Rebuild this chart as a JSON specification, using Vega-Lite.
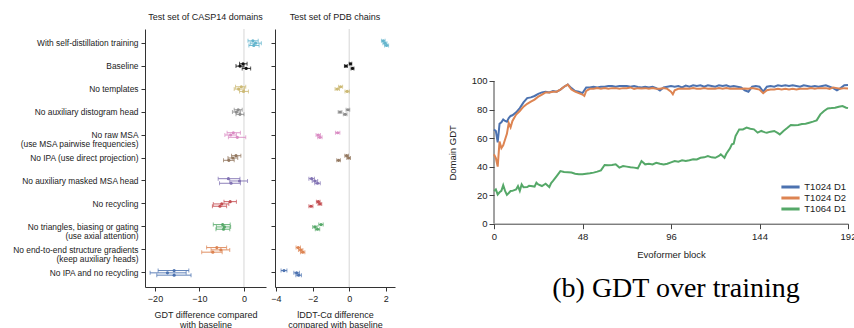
{
  "$schema": "https://vega.github.io/schema/vega-lite/v6.json",
  "background": "white",
  "padding": {"left": 12, "top": 12, "right": 0, "bottom": 0},
  "config": {
    "font": "Liberation Sans",
    "view": {"stroke": null},
    "axis": {"domainColor": "#333", "tickColor": "#333", "labelColor": "#222", "titleColor": "#222", "grid": false, "titleFontWeight": "normal", "labelOverlap": false, "labelBound": false, "labelFlush": false},
    "title": {"fontWeight": "normal", "color": "#222"}
  },
  "resolve": {"scale": {"color": "independent"}, "legend": {"color": "independent"}},
  "datasets": {
    "ablation": [
      {"cond": "With self-distillation training", "seed": "s1", "gdt": 2.0, "gdtLo": 0.9, "gdtHi": 3.2, "lddt": 1.86, "lddtLo": 1.76, "lddtHi": 1.96},
      {"cond": "With self-distillation training", "seed": "s2", "gdt": 2.6, "gdtLo": 1.4, "gdtHi": 3.9, "lddt": 1.95, "lddtLo": 1.84, "lddtHi": 2.06},
      {"cond": "With self-distillation training", "seed": "s3", "gdt": 2.2, "gdtLo": 1.1, "gdtHi": 3.4, "lddt": 2.04, "lddtLo": 1.93, "lddtHi": 2.15},
      {"cond": "Baseline", "seed": "s1", "gdt": -0.2, "gdtLo": -1.0, "gdtHi": 0.7, "lddt": 0.07, "lddtLo": 0.0, "lddtHi": 0.14},
      {"cond": "Baseline", "seed": "s2", "gdt": -0.9, "gdtLo": -1.8, "gdtHi": 0.0, "lddt": -0.18, "lddtLo": -0.26, "lddtHi": -0.1},
      {"cond": "Baseline", "seed": "s3", "gdt": 0.5, "gdtLo": -0.4, "gdtHi": 1.5, "lddt": 0.18, "lddtLo": 0.1, "lddtHi": 0.26},
      {"cond": "No templates", "seed": "s1", "gdt": -0.6, "gdtLo": -1.9, "gdtHi": 0.4, "lddt": -0.47, "lddtLo": -0.58, "lddtHi": -0.36},
      {"cond": "No templates", "seed": "s2", "gdt": -1.2, "gdtLo": -2.2, "gdtHi": 0.1, "lddt": -0.65, "lddtLo": -0.77, "lddtHi": -0.53},
      {"cond": "No templates", "seed": "s3", "gdt": -0.1, "gdtLo": -1.0, "gdtHi": 1.0, "lddt": -0.11, "lddtLo": -0.23, "lddtHi": 0.01},
      {"cond": "No auxiliary distogram head", "seed": "s1", "gdt": -1.3, "gdtLo": -2.2, "gdtHi": -0.4, "lddt": -0.07, "lddtLo": -0.17, "lddtHi": 0.03},
      {"cond": "No auxiliary distogram head", "seed": "s2", "gdt": -1.7, "gdtLo": -2.6, "gdtHi": -0.8, "lddt": -0.5, "lddtLo": -0.6, "lddtHi": -0.4},
      {"cond": "No auxiliary distogram head", "seed": "s3", "gdt": -0.9, "gdtLo": -1.8, "gdtHi": 0.0, "lddt": -0.22, "lddtLo": -0.32, "lddtHi": -0.12},
      {"cond": "No raw MSA\n(use MSA pairwise frequencies)", "seed": "s1", "gdt": -2.4, "gdtLo": -3.8, "gdtHi": -0.8, "lddt": -0.63, "lddtLo": -0.75, "lddtHi": -0.51},
      {"cond": "No raw MSA\n(use MSA pairwise frequencies)", "seed": "s2", "gdt": -3.0, "gdtLo": -4.3, "gdtHi": -1.7, "lddt": -1.69, "lddtLo": -1.81, "lddtHi": -1.57},
      {"cond": "No raw MSA\n(use MSA pairwise frequencies)", "seed": "s3", "gdt": -1.5, "gdtLo": -3.5, "gdtHi": 0.4, "lddt": -1.6, "lddtLo": -1.72, "lddtHi": -1.48},
      {"cond": "No IPA (use direct projection)", "seed": "s1", "gdt": -1.8, "gdtLo": -2.8, "gdtHi": -0.7, "lddt": -0.14, "lddtLo": -0.24, "lddtHi": -0.04},
      {"cond": "No IPA (use direct projection)", "seed": "s2", "gdt": -2.5, "gdtLo": -3.6, "gdtHi": -1.4, "lddt": -0.03, "lddtLo": -0.13, "lddtHi": 0.07},
      {"cond": "No IPA (use direct projection)", "seed": "s3", "gdt": -3.4, "gdtLo": -4.6, "gdtHi": -2.2, "lddt": -0.58, "lddtLo": -0.68, "lddtHi": -0.48},
      {"cond": "No auxiliary masked MSA head", "seed": "s1", "gdt": -3.5, "gdtLo": -5.8, "gdtHi": -0.9, "lddt": -2.05, "lddtLo": -2.2, "lddtHi": -1.9},
      {"cond": "No auxiliary masked MSA head", "seed": "s2", "gdt": -1.0, "gdtLo": -3.2, "gdtHi": 0.8, "lddt": -1.87, "lddtLo": -2.02, "lddtHi": -1.72},
      {"cond": "No auxiliary masked MSA head", "seed": "s3", "gdt": -2.9, "gdtLo": -5.5, "gdtHi": -0.8, "lddt": -1.73, "lddtLo": -1.88, "lddtHi": -1.58},
      {"cond": "No recycling", "seed": "s1", "gdt": -3.1, "gdtLo": -4.5, "gdtHi": -1.7, "lddt": -1.69, "lddtLo": -1.79, "lddtHi": -1.59},
      {"cond": "No recycling", "seed": "s2", "gdt": -5.0, "gdtLo": -6.9, "gdtHi": -3.4, "lddt": -1.6, "lddtLo": -1.7, "lddtHi": -1.5},
      {"cond": "No recycling", "seed": "s3", "gdt": -5.4, "gdtLo": -7.1, "gdtHi": -3.9, "lddt": -2.09, "lddtLo": -2.2, "lddtHi": -1.98},
      {"cond": "No triangles, biasing or gating\n(use axial attention)", "seed": "s1", "gdt": -4.8, "gdtLo": -6.9, "gdtHi": -3.1, "lddt": -1.54, "lddtLo": -1.66, "lddtHi": -1.42},
      {"cond": "No triangles, biasing or gating\n(use axial attention)", "seed": "s2", "gdt": -4.4, "gdtLo": -6.2, "gdtHi": -3.0, "lddt": -1.87, "lddtLo": -1.99, "lddtHi": -1.75},
      {"cond": "No triangles, biasing or gating\n(use axial attention)", "seed": "s3", "gdt": -4.6, "gdtLo": -6.3, "gdtHi": -3.2, "lddt": -1.73, "lddtLo": -1.85, "lddtHi": -1.61},
      {"cond": "No end-to-end structure gradients\n(keep auxiliary heads)", "seed": "s1", "gdt": -6.1, "gdtLo": -8.4, "gdtHi": -3.9, "lddt": -2.78, "lddtLo": -2.9, "lddtHi": -2.66},
      {"cond": "No end-to-end structure gradients\n(keep auxiliary heads)", "seed": "s2", "gdt": -5.2, "gdtLo": -7.4, "gdtHi": -3.2, "lddt": -2.65, "lddtLo": -2.77, "lddtHi": -2.53},
      {"cond": "No end-to-end structure gradients\n(keep auxiliary heads)", "seed": "s3", "gdt": -7.0, "gdtLo": -9.5, "gdtHi": -4.9, "lddt": -2.54, "lddtLo": -2.66, "lddtHi": -2.42},
      {"cond": "No IPA and no recycling", "seed": "s1", "gdt": -15.7, "gdtLo": -19.3, "gdtHi": -12.4, "lddt": -3.56, "lddtLo": -3.72, "lddtHi": -3.4},
      {"cond": "No IPA and no recycling", "seed": "s2", "gdt": -17.2, "gdtLo": -21.1, "gdtHi": -13.0, "lddt": -2.87, "lddtLo": -3.02, "lddtHi": -2.72},
      {"cond": "No IPA and no recycling", "seed": "s3", "gdt": -15.7, "gdtLo": -19.6, "gdtHi": -11.9, "lddt": -2.76, "lddtLo": -2.91, "lddtHi": -2.61}
    ],
    "gdt": [
      {"block": 0, "series": "T1024 D1", "gdt": 66}, {"block": 1, "series": "T1024 D1", "gdt": 65}, {"block": 2, "series": "T1024 D1", "gdt": 57}, {"block": 3, "series": "T1024 D1", "gdt": 70}, {"block": 4, "series": "T1024 D1", "gdt": 71}, {"block": 5, "series": "T1024 D1", "gdt": 73}, {"block": 6, "series": "T1024 D1", "gdt": 72}, {"block": 7, "series": "T1024 D1", "gdt": 71.5}, {"block": 8, "series": "T1024 D1", "gdt": 74}, {"block": 9, "series": "T1024 D1", "gdt": 75.5}, {"block": 10, "series": "T1024 D1", "gdt": 76}, {"block": 12, "series": "T1024 D1", "gdt": 78}, {"block": 14, "series": "T1024 D1", "gdt": 81}, {"block": 16, "series": "T1024 D1", "gdt": 85}, {"block": 18, "series": "T1024 D1", "gdt": 88}, {"block": 20, "series": "T1024 D1", "gdt": 88.5}, {"block": 22, "series": "T1024 D1", "gdt": 89.5}, {"block": 24, "series": "T1024 D1", "gdt": 91}, {"block": 26, "series": "T1024 D1", "gdt": 92}, {"block": 28, "series": "T1024 D1", "gdt": 92.5}, {"block": 30, "series": "T1024 D1", "gdt": 92}, {"block": 32, "series": "T1024 D1", "gdt": 93}, {"block": 34, "series": "T1024 D1", "gdt": 92.5}, {"block": 36, "series": "T1024 D1", "gdt": 94}, {"block": 38, "series": "T1024 D1", "gdt": 96}, {"block": 40, "series": "T1024 D1", "gdt": 97.5}, {"block": 42, "series": "T1024 D1", "gdt": 95}, {"block": 44, "series": "T1024 D1", "gdt": 93}, {"block": 46, "series": "T1024 D1", "gdt": 92.5}, {"block": 48, "series": "T1024 D1", "gdt": 91.5}, {"block": 50, "series": "T1024 D1", "gdt": 95.5}, {"block": 52, "series": "T1024 D1", "gdt": 95.5}, {"block": 54, "series": "T1024 D1", "gdt": 96}, {"block": 56, "series": "T1024 D1", "gdt": 95.5}, {"block": 58, "series": "T1024 D1", "gdt": 96}, {"block": 60, "series": "T1024 D1", "gdt": 96}, {"block": 62, "series": "T1024 D1", "gdt": 96.5}, {"block": 64, "series": "T1024 D1", "gdt": 96.5}, {"block": 66, "series": "T1024 D1", "gdt": 96}, {"block": 68, "series": "T1024 D1", "gdt": 96.5}, {"block": 70, "series": "T1024 D1", "gdt": 96.5}, {"block": 72, "series": "T1024 D1", "gdt": 96.5}, {"block": 74, "series": "T1024 D1", "gdt": 96}, {"block": 76, "series": "T1024 D1", "gdt": 96.5}, {"block": 78, "series": "T1024 D1", "gdt": 95.8}, {"block": 80, "series": "T1024 D1", "gdt": 95.5}, {"block": 82, "series": "T1024 D1", "gdt": 96}, {"block": 84, "series": "T1024 D1", "gdt": 95.5}, {"block": 86, "series": "T1024 D1", "gdt": 96}, {"block": 88, "series": "T1024 D1", "gdt": 95}, {"block": 90, "series": "T1024 D1", "gdt": 93.4}, {"block": 92, "series": "T1024 D1", "gdt": 95.5}, {"block": 94, "series": "T1024 D1", "gdt": 96}, {"block": 96, "series": "T1024 D1", "gdt": 96.5}, {"block": 98, "series": "T1024 D1", "gdt": 96}, {"block": 100, "series": "T1024 D1", "gdt": 96.5}, {"block": 102, "series": "T1024 D1", "gdt": 95.5}, {"block": 104, "series": "T1024 D1", "gdt": 96.8}, {"block": 106, "series": "T1024 D1", "gdt": 96}, {"block": 108, "series": "T1024 D1", "gdt": 97}, {"block": 110, "series": "T1024 D1", "gdt": 96.5}, {"block": 112, "series": "T1024 D1", "gdt": 97}, {"block": 114, "series": "T1024 D1", "gdt": 96}, {"block": 116, "series": "T1024 D1", "gdt": 97}, {"block": 118, "series": "T1024 D1", "gdt": 96.5}, {"block": 120, "series": "T1024 D1", "gdt": 96}, {"block": 122, "series": "T1024 D1", "gdt": 97}, {"block": 124, "series": "T1024 D1", "gdt": 96.5}, {"block": 126, "series": "T1024 D1", "gdt": 97}, {"block": 128, "series": "T1024 D1", "gdt": 96}, {"block": 130, "series": "T1024 D1", "gdt": 96.5}, {"block": 132, "series": "T1024 D1", "gdt": 96}, {"block": 134, "series": "T1024 D1", "gdt": 95.5}, {"block": 136, "series": "T1024 D1", "gdt": 93.5}, {"block": 138, "series": "T1024 D1", "gdt": 92.5}, {"block": 140, "series": "T1024 D1", "gdt": 96}, {"block": 142, "series": "T1024 D1", "gdt": 96.5}, {"block": 144, "series": "T1024 D1", "gdt": 96}, {"block": 146, "series": "T1024 D1", "gdt": 92.5}, {"block": 148, "series": "T1024 D1", "gdt": 96}, {"block": 150, "series": "T1024 D1", "gdt": 96.5}, {"block": 152, "series": "T1024 D1", "gdt": 96}, {"block": 154, "series": "T1024 D1", "gdt": 97}, {"block": 156, "series": "T1024 D1", "gdt": 96.5}, {"block": 158, "series": "T1024 D1", "gdt": 97}, {"block": 160, "series": "T1024 D1", "gdt": 96.5}, {"block": 162, "series": "T1024 D1", "gdt": 97}, {"block": 164, "series": "T1024 D1", "gdt": 96.5}, {"block": 166, "series": "T1024 D1", "gdt": 96}, {"block": 168, "series": "T1024 D1", "gdt": 97}, {"block": 170, "series": "T1024 D1", "gdt": 96.5}, {"block": 172, "series": "T1024 D1", "gdt": 96}, {"block": 174, "series": "T1024 D1", "gdt": 96.5}, {"block": 176, "series": "T1024 D1", "gdt": 96}, {"block": 178, "series": "T1024 D1", "gdt": 96.5}, {"block": 180, "series": "T1024 D1", "gdt": 97}, {"block": 182, "series": "T1024 D1", "gdt": 96}, {"block": 184, "series": "T1024 D1", "gdt": 95}, {"block": 186, "series": "T1024 D1", "gdt": 93.4}, {"block": 188, "series": "T1024 D1", "gdt": 95}, {"block": 190, "series": "T1024 D1", "gdt": 97}, {"block": 192, "series": "T1024 D1", "gdt": 97.2},
      {"block": 0, "series": "T1024 D2", "gdt": 48.6}, {"block": 1, "series": "T1024 D2", "gdt": 46}, {"block": 2, "series": "T1024 D2", "gdt": 40}, {"block": 3, "series": "T1024 D2", "gdt": 57.5}, {"block": 4, "series": "T1024 D2", "gdt": 53}, {"block": 5, "series": "T1024 D2", "gdt": 55}, {"block": 6, "series": "T1024 D2", "gdt": 59}, {"block": 7, "series": "T1024 D2", "gdt": 63}, {"block": 8, "series": "T1024 D2", "gdt": 70.5}, {"block": 9, "series": "T1024 D2", "gdt": 67.5}, {"block": 10, "series": "T1024 D2", "gdt": 72}, {"block": 12, "series": "T1024 D2", "gdt": 76.5}, {"block": 14, "series": "T1024 D2", "gdt": 79}, {"block": 16, "series": "T1024 D2", "gdt": 82}, {"block": 18, "series": "T1024 D2", "gdt": 84}, {"block": 20, "series": "T1024 D2", "gdt": 85.5}, {"block": 22, "series": "T1024 D2", "gdt": 87}, {"block": 24, "series": "T1024 D2", "gdt": 89}, {"block": 26, "series": "T1024 D2", "gdt": 90.5}, {"block": 28, "series": "T1024 D2", "gdt": 92}, {"block": 30, "series": "T1024 D2", "gdt": 92}, {"block": 32, "series": "T1024 D2", "gdt": 92.5}, {"block": 34, "series": "T1024 D2", "gdt": 92.5}, {"block": 36, "series": "T1024 D2", "gdt": 94}, {"block": 38, "series": "T1024 D2", "gdt": 96}, {"block": 40, "series": "T1024 D2", "gdt": 97.5}, {"block": 42, "series": "T1024 D2", "gdt": 94}, {"block": 44, "series": "T1024 D2", "gdt": 92.5}, {"block": 46, "series": "T1024 D2", "gdt": 91.5}, {"block": 48, "series": "T1024 D2", "gdt": 90.5}, {"block": 49, "series": "T1024 D2", "gdt": 89.5}, {"block": 50, "series": "T1024 D2", "gdt": 93}, {"block": 52, "series": "T1024 D2", "gdt": 94.5}, {"block": 54, "series": "T1024 D2", "gdt": 94.5}, {"block": 56, "series": "T1024 D2", "gdt": 95}, {"block": 58, "series": "T1024 D2", "gdt": 94.5}, {"block": 60, "series": "T1024 D2", "gdt": 95}, {"block": 62, "series": "T1024 D2", "gdt": 94.5}, {"block": 64, "series": "T1024 D2", "gdt": 95}, {"block": 66, "series": "T1024 D2", "gdt": 95}, {"block": 68, "series": "T1024 D2", "gdt": 94.5}, {"block": 70, "series": "T1024 D2", "gdt": 95}, {"block": 72, "series": "T1024 D2", "gdt": 95}, {"block": 74, "series": "T1024 D2", "gdt": 95.5}, {"block": 76, "series": "T1024 D2", "gdt": 94.5}, {"block": 78, "series": "T1024 D2", "gdt": 95}, {"block": 80, "series": "T1024 D2", "gdt": 94.8}, {"block": 82, "series": "T1024 D2", "gdt": 95}, {"block": 84, "series": "T1024 D2", "gdt": 94.5}, {"block": 86, "series": "T1024 D2", "gdt": 95}, {"block": 88, "series": "T1024 D2", "gdt": 94.5}, {"block": 90, "series": "T1024 D2", "gdt": 94.5}, {"block": 92, "series": "T1024 D2", "gdt": 95}, {"block": 94, "series": "T1024 D2", "gdt": 94.5}, {"block": 96, "series": "T1024 D2", "gdt": 92.5}, {"block": 97, "series": "T1024 D2", "gdt": 90.7}, {"block": 98, "series": "T1024 D2", "gdt": 93.5}, {"block": 100, "series": "T1024 D2", "gdt": 94.5}, {"block": 102, "series": "T1024 D2", "gdt": 94.5}, {"block": 104, "series": "T1024 D2", "gdt": 94.8}, {"block": 106, "series": "T1024 D2", "gdt": 94.5}, {"block": 108, "series": "T1024 D2", "gdt": 95}, {"block": 110, "series": "T1024 D2", "gdt": 94.5}, {"block": 112, "series": "T1024 D2", "gdt": 94.5}, {"block": 114, "series": "T1024 D2", "gdt": 95}, {"block": 116, "series": "T1024 D2", "gdt": 94.5}, {"block": 118, "series": "T1024 D2", "gdt": 94.8}, {"block": 120, "series": "T1024 D2", "gdt": 94.5}, {"block": 122, "series": "T1024 D2", "gdt": 95}, {"block": 124, "series": "T1024 D2", "gdt": 94.5}, {"block": 126, "series": "T1024 D2", "gdt": 95}, {"block": 128, "series": "T1024 D2", "gdt": 94.5}, {"block": 130, "series": "T1024 D2", "gdt": 94.8}, {"block": 132, "series": "T1024 D2", "gdt": 94.5}, {"block": 134, "series": "T1024 D2", "gdt": 94.5}, {"block": 136, "series": "T1024 D2", "gdt": 94.8}, {"block": 138, "series": "T1024 D2", "gdt": 94.5}, {"block": 140, "series": "T1024 D2", "gdt": 95}, {"block": 142, "series": "T1024 D2", "gdt": 94.5}, {"block": 144, "series": "T1024 D2", "gdt": 94}, {"block": 146, "series": "T1024 D2", "gdt": 91.4}, {"block": 148, "series": "T1024 D2", "gdt": 93.5}, {"block": 150, "series": "T1024 D2", "gdt": 94}, {"block": 152, "series": "T1024 D2", "gdt": 94}, {"block": 154, "series": "T1024 D2", "gdt": 94.5}, {"block": 156, "series": "T1024 D2", "gdt": 94}, {"block": 158, "series": "T1024 D2", "gdt": 94.5}, {"block": 160, "series": "T1024 D2", "gdt": 94}, {"block": 162, "series": "T1024 D2", "gdt": 94.5}, {"block": 164, "series": "T1024 D2", "gdt": 94}, {"block": 166, "series": "T1024 D2", "gdt": 94.5}, {"block": 168, "series": "T1024 D2", "gdt": 94.5}, {"block": 170, "series": "T1024 D2", "gdt": 94.5}, {"block": 172, "series": "T1024 D2", "gdt": 95}, {"block": 174, "series": "T1024 D2", "gdt": 94.5}, {"block": 176, "series": "T1024 D2", "gdt": 95}, {"block": 178, "series": "T1024 D2", "gdt": 95}, {"block": 180, "series": "T1024 D2", "gdt": 95}, {"block": 182, "series": "T1024 D2", "gdt": 94.5}, {"block": 184, "series": "T1024 D2", "gdt": 95.5}, {"block": 186, "series": "T1024 D2", "gdt": 95}, {"block": 188, "series": "T1024 D2", "gdt": 94.5}, {"block": 190, "series": "T1024 D2", "gdt": 95}, {"block": 192, "series": "T1024 D2", "gdt": 94.8},
      {"block": 0, "series": "T1064 D1", "gdt": 22.9}, {"block": 1, "series": "T1064 D1", "gdt": 24}, {"block": 2, "series": "T1064 D1", "gdt": 20.5}, {"block": 3, "series": "T1064 D1", "gdt": 22}, {"block": 4, "series": "T1064 D1", "gdt": 23}, {"block": 5, "series": "T1064 D1", "gdt": 27}, {"block": 6, "series": "T1064 D1", "gdt": 23}, {"block": 7, "series": "T1064 D1", "gdt": 20.2}, {"block": 8, "series": "T1064 D1", "gdt": 21.5}, {"block": 9, "series": "T1064 D1", "gdt": 22.9}, {"block": 10, "series": "T1064 D1", "gdt": 23}, {"block": 11, "series": "T1064 D1", "gdt": 23.5}, {"block": 12, "series": "T1064 D1", "gdt": 24}, {"block": 13, "series": "T1064 D1", "gdt": 26.4}, {"block": 14, "series": "T1064 D1", "gdt": 23}, {"block": 15, "series": "T1064 D1", "gdt": 27.5}, {"block": 16, "series": "T1064 D1", "gdt": 25.5}, {"block": 18, "series": "T1064 D1", "gdt": 25.7}, {"block": 19, "series": "T1064 D1", "gdt": 26.5}, {"block": 20, "series": "T1064 D1", "gdt": 26.4}, {"block": 22, "series": "T1064 D1", "gdt": 26}, {"block": 23, "series": "T1064 D1", "gdt": 28.7}, {"block": 24, "series": "T1064 D1", "gdt": 27.5}, {"block": 26, "series": "T1064 D1", "gdt": 26.4}, {"block": 28, "series": "T1064 D1", "gdt": 28}, {"block": 30, "series": "T1064 D1", "gdt": 25.7}, {"block": 31, "series": "T1064 D1", "gdt": 28.5}, {"block": 32, "series": "T1064 D1", "gdt": 30}, {"block": 34, "series": "T1064 D1", "gdt": 33.4}, {"block": 36, "series": "T1064 D1", "gdt": 36.9}, {"block": 38, "series": "T1064 D1", "gdt": 36.2}, {"block": 40, "series": "T1064 D1", "gdt": 36}, {"block": 42, "series": "T1064 D1", "gdt": 35.8}, {"block": 44, "series": "T1064 D1", "gdt": 35}, {"block": 46, "series": "T1064 D1", "gdt": 34.6}, {"block": 48, "series": "T1064 D1", "gdt": 34.6}, {"block": 50, "series": "T1064 D1", "gdt": 35}, {"block": 52, "series": "T1064 D1", "gdt": 35.3}, {"block": 54, "series": "T1064 D1", "gdt": 35.8}, {"block": 56, "series": "T1064 D1", "gdt": 36.5}, {"block": 58, "series": "T1064 D1", "gdt": 37.4}, {"block": 60, "series": "T1064 D1", "gdt": 41.1}, {"block": 62, "series": "T1064 D1", "gdt": 41}, {"block": 64, "series": "T1064 D1", "gdt": 41.1}, {"block": 66, "series": "T1064 D1", "gdt": 41.6}, {"block": 68, "series": "T1064 D1", "gdt": 39.3}, {"block": 70, "series": "T1064 D1", "gdt": 40.4}, {"block": 72, "series": "T1064 D1", "gdt": 40}, {"block": 74, "series": "T1064 D1", "gdt": 39.5}, {"block": 76, "series": "T1064 D1", "gdt": 39.3}, {"block": 78, "series": "T1064 D1", "gdt": 38.8}, {"block": 80, "series": "T1064 D1", "gdt": 43.9}, {"block": 82, "series": "T1064 D1", "gdt": 41.6}, {"block": 84, "series": "T1064 D1", "gdt": 42}, {"block": 86, "series": "T1064 D1", "gdt": 41.5}, {"block": 88, "series": "T1064 D1", "gdt": 42.7}, {"block": 90, "series": "T1064 D1", "gdt": 42}, {"block": 92, "series": "T1064 D1", "gdt": 41.5}, {"block": 94, "series": "T1064 D1", "gdt": 42}, {"block": 96, "series": "T1064 D1", "gdt": 43}, {"block": 98, "series": "T1064 D1", "gdt": 43.9}, {"block": 100, "series": "T1064 D1", "gdt": 43.5}, {"block": 102, "series": "T1064 D1", "gdt": 44.4}, {"block": 104, "series": "T1064 D1", "gdt": 44}, {"block": 106, "series": "T1064 D1", "gdt": 44.5}, {"block": 108, "series": "T1064 D1", "gdt": 45.1}, {"block": 110, "series": "T1064 D1", "gdt": 45}, {"block": 112, "series": "T1064 D1", "gdt": 46.2}, {"block": 114, "series": "T1064 D1", "gdt": 46.5}, {"block": 116, "series": "T1064 D1", "gdt": 47.4}, {"block": 118, "series": "T1064 D1", "gdt": 46.5}, {"block": 120, "series": "T1064 D1", "gdt": 46.2}, {"block": 122, "series": "T1064 D1", "gdt": 47.5}, {"block": 123, "series": "T1064 D1", "gdt": 48.6}, {"block": 125, "series": "T1064 D1", "gdt": 46.2}, {"block": 126, "series": "T1064 D1", "gdt": 49}, {"block": 128, "series": "T1064 D1", "gdt": 52.8}, {"block": 129, "series": "T1064 D1", "gdt": 55.6}, {"block": 130, "series": "T1064 D1", "gdt": 56}, {"block": 131, "series": "T1064 D1", "gdt": 61.4}, {"block": 133, "series": "T1064 D1", "gdt": 66.1}, {"block": 135, "series": "T1064 D1", "gdt": 66.1}, {"block": 137, "series": "T1064 D1", "gdt": 67.3}, {"block": 139, "series": "T1064 D1", "gdt": 66.5}, {"block": 141, "series": "T1064 D1", "gdt": 66.1}, {"block": 143, "series": "T1064 D1", "gdt": 63.8}, {"block": 145, "series": "T1064 D1", "gdt": 65}, {"block": 147, "series": "T1064 D1", "gdt": 64}, {"block": 148, "series": "T1064 D1", "gdt": 63.8}, {"block": 150, "series": "T1064 D1", "gdt": 64.5}, {"block": 152, "series": "T1064 D1", "gdt": 65}, {"block": 154, "series": "T1064 D1", "gdt": 63.5}, {"block": 155, "series": "T1064 D1", "gdt": 62.6}, {"block": 157, "series": "T1064 D1", "gdt": 65}, {"block": 159, "series": "T1064 D1", "gdt": 67}, {"block": 161, "series": "T1064 D1", "gdt": 69.2}, {"block": 163, "series": "T1064 D1", "gdt": 69}, {"block": 165, "series": "T1064 D1", "gdt": 69.2}, {"block": 167, "series": "T1064 D1", "gdt": 69.8}, {"block": 169, "series": "T1064 D1", "gdt": 70.1}, {"block": 171, "series": "T1064 D1", "gdt": 70.8}, {"block": 173, "series": "T1064 D1", "gdt": 71.5}, {"block": 175, "series": "T1064 D1", "gdt": 72.4}, {"block": 177, "series": "T1064 D1", "gdt": 76.6}, {"block": 179, "series": "T1064 D1", "gdt": 79}, {"block": 181, "series": "T1064 D1", "gdt": 80.8}, {"block": 183, "series": "T1064 D1", "gdt": 81}, {"block": 185, "series": "T1064 D1", "gdt": 81.3}, {"block": 187, "series": "T1064 D1", "gdt": 82}, {"block": 189, "series": "T1064 D1", "gdt": 82.5}, {"block": 191, "series": "T1064 D1", "gdt": 81.3}, {"block": 192, "series": "T1064 D1", "gdt": 81}
    ]
  },
  "hconcat": [
    {
      "hconcat": [
        {
          "width": 121,
          "height": 258,
          "title": {"text": "Test set of CASP14 domains", "fontSize": 9, "offset": 7},
          "layer": [
            {
              "data": {"values": [{"zero": 0}]},
              "mark": {"type": "rule", "color": "#d6d6d6", "strokeWidth": 1},
              "encoding": {"x": {"field": "zero", "type": "quantitative", "scale": {"domain": [-22.25, 4.95], "nice": false, "zero": false},
                "axis": {"title": ["GDT difference compared", "with baseline"], "values": [-20, -10, 0], "tickCount": 10, "format": "d", "labelFontSize": 9, "titleFontSize": 9, "tickSize": 4, "labelPadding": 3, "titlePadding": 7, "titleLineHeight": 10}}}
            },
            {
              "data": {"name": "ablation"},
              "encoding": {
                "y": {"field": "cond", "type": "nominal", "sort": ["With self-distillation training", "Baseline", "No templates", "No auxiliary distogram head", "No raw MSA\n(use MSA pairwise frequencies)", "No IPA (use direct projection)", "No auxiliary masked MSA head", "No recycling", "No triangles, biasing or gating\n(use axial attention)", "No end-to-end structure gradients\n(keep auxiliary heads)", "No IPA and no recycling"],
                  "scale": {"type": "band", "paddingInner": 0.7, "paddingOuter": 0.466},
                  "axis": {"title": null, "labelFontSize": 8.4, "labelExpr": "split(datum.label, '\\n')", "labelLineHeight": 9, "tickSize": 4, "labelPadding": 3, "labelLimit": 220}},
                "yOffset": {"field": "seed", "type": "nominal"},
                "color": {"field": "cond", "type": "nominal", "legend": null,
                  "scale": {"domain": ["With self-distillation training", "Baseline", "No templates", "No auxiliary distogram head", "No raw MSA\n(use MSA pairwise frequencies)", "No IPA (use direct projection)", "No auxiliary masked MSA head", "No recycling", "No triangles, biasing or gating\n(use axial attention)", "No end-to-end structure gradients\n(keep auxiliary heads)", "No IPA and no recycling"],
                    "range": ["#64b5cd", "#111111", "#ccb974", "#8c8c8c", "#da8bc3", "#937860", "#8172b3", "#c44e52", "#55a868", "#dd8452", "#4c72b0"]}}
              },
              "layer": [
                {"mark": {"type": "rule", "strokeWidth": 1, "opacity": 0.9}, "encoding": {"x": {"field": "gdtLo", "type": "quantitative"}, "x2": {"field": "gdtHi"}}},
                {"mark": {"type": "tick", "size": 4, "thickness": 1}, "encoding": {"x": {"field": "gdtLo", "type": "quantitative"}}},
                {"mark": {"type": "tick", "size": 4, "thickness": 1}, "encoding": {"x": {"field": "gdtHi", "type": "quantitative"}}},
                {"mark": {"type": "circle", "size": 10, "opacity": 1}, "encoding": {"x": {"field": "gdt", "type": "quantitative"}}}
              ]
            }
          ]
        },
        {
          "width": 120,
          "height": 258,
          "title": {"text": "Test set of PDB chains", "fontSize": 9, "offset": 7},
          "layer": [
            {
              "data": {"values": [{"zero": 0}]},
              "mark": {"type": "rule", "color": "#d6d6d6", "strokeWidth": 1},
              "encoding": {"x": {"field": "zero", "type": "quantitative", "scale": {"domain": [-4.05, 2.5], "nice": false, "zero": false},
                "axis": {"title": ["lDDT-Cα difference", "compared with baseline"], "values": [-4, -2, 0, 2], "tickCount": 10, "format": "d", "labelFontSize": 9, "titleFontSize": 9, "tickSize": 4, "labelPadding": 3, "titlePadding": 7, "titleLineHeight": 10}}}
            },
            {
              "data": {"name": "ablation"},
              "encoding": {
                "y": {"field": "cond", "type": "nominal", "sort": ["With self-distillation training", "Baseline", "No templates", "No auxiliary distogram head", "No raw MSA\n(use MSA pairwise frequencies)", "No IPA (use direct projection)", "No auxiliary masked MSA head", "No recycling", "No triangles, biasing or gating\n(use axial attention)", "No end-to-end structure gradients\n(keep auxiliary heads)", "No IPA and no recycling"],
                  "scale": {"type": "band", "paddingInner": 0.7, "paddingOuter": 0.466},
                  "axis": {"title": null, "labels": false, "tickSize": 4}},
                "yOffset": {"field": "seed", "type": "nominal"},
                "color": {"field": "cond", "type": "nominal", "legend": null,
                  "scale": {"domain": ["With self-distillation training", "Baseline", "No templates", "No auxiliary distogram head", "No raw MSA\n(use MSA pairwise frequencies)", "No IPA (use direct projection)", "No auxiliary masked MSA head", "No recycling", "No triangles, biasing or gating\n(use axial attention)", "No end-to-end structure gradients\n(keep auxiliary heads)", "No IPA and no recycling"],
                    "range": ["#64b5cd", "#111111", "#ccb974", "#8c8c8c", "#da8bc3", "#937860", "#8172b3", "#c44e52", "#55a868", "#dd8452", "#4c72b0"]}}
              },
              "layer": [
                {"mark": {"type": "rule", "strokeWidth": 1, "opacity": 0.9}, "encoding": {"x": {"field": "lddtLo", "type": "quantitative"}, "x2": {"field": "lddtHi"}}},
                {"mark": {"type": "tick", "size": 4, "thickness": 1}, "encoding": {"x": {"field": "lddtLo", "type": "quantitative"}}},
                {"mark": {"type": "tick", "size": 4, "thickness": 1}, "encoding": {"x": {"field": "lddtHi", "type": "quantitative"}}},
                {"mark": {"type": "circle", "size": 10, "opacity": 1}, "encoding": {"x": {"field": "lddt", "type": "quantitative"}}}
              ]
            }
          ]
        }
      ],
      "spacing": 9,
      "bounds": "flush"
    },
    {
      "width": 354,
      "height": 194.7,
      "title": {"text": "(b) GDT over training", "orient": "bottom", "font": "Liberation Serif", "fontSize": 28, "color": "#000", "offset": 16, "frame": "group", "anchor": "middle", "dx": 5},
      "layer": [
        {
          "data": {"values": [{"lo": 0, "hi": 100}]},
          "mark": {"type": "rule", "color": "#444", "strokeWidth": 1},
          "encoding": {
            "x": {"datum": 0, "type": "quantitative", "title": "Evoformer block", "scale": {"domain": [0, 192], "nice": false, "zero": false},
              "axis": {"values": [0, 48, 96, 144, 192], "tickCount": 10, "format": "d", "labelFontSize": 9.5, "titleFontSize": 9.5, "tickSize": 5, "labelPadding": 3, "titlePadding": 8, "domainColor": "#444", "tickColor": "#444"}},
            "y": {"field": "lo", "type": "quantitative", "title": "Domain GDT", "scale": {"domain": [0, 136.44], "nice": false, "zero": false},
              "axis": {"values": [0, 20, 40, 60, 80, 100], "tickCount": 12, "format": "d", "domain": false, "labelFontSize": 9.5, "titleFontSize": 9.5, "tickSize": 5, "labelPadding": 2, "titlePadding": 14, "titleY": 123.4, "tickColor": "#444"}},
            "y2": {"field": "hi"}
          }
        },
        {
          "data": {"name": "gdt"},
          "mark": {"type": "line", "strokeWidth": 2},
          "encoding": {
            "x": {"field": "block", "type": "quantitative", "title": "Evoformer block"},
            "y": {"field": "gdt", "type": "quantitative", "title": "Domain GDT"},
            "color": {"field": "series", "type": "nominal",
              "scale": {"domain": ["T1024 D1", "T1024 D2", "T1064 D1"], "range": ["#4c72b0", "#dd8452", "#55a868"]},
              "legend": {"title": null, "orient": "none", "legendX": 291.5, "legendY": 153, "padding": 0, "symbolType": "M-2.6,0L2.6,0", "symbolSize": 49, "symbolStrokeWidth": 3, "labelFontSize": 9.5, "labelOffset": 8.8, "rowPadding": -2, "labelColor": "#222"}}
          }
        }
      ]
    }
  ],
  "spacing": 52
}
